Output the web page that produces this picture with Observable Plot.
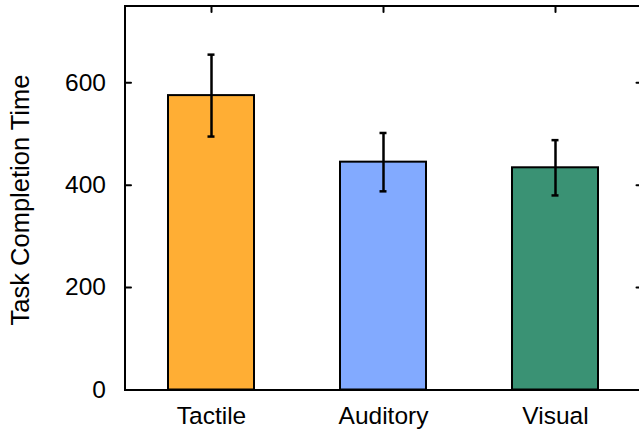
<!DOCTYPE html>
<html>
<head>
<meta charset="utf-8">
<script src="https://cdn.jsdelivr.net/npm/d3@7"></script>
<script src="https://cdn.jsdelivr.net/npm/@observablehq/plot@0.6"></script>
<style>
  html, body { margin: 0; padding: 0; background: white; }
  svg { display: block; }
</style>
</head>
<body>
<div id="chart"></div>
<script>
const categories = ["Tactile", "Auditory", "Visual"];
const means = [575, 445, 434];
const errors = [80, 57, 54];
const colors = ["#FFAE34", "#82AAFF", "#3A9274"];
const yTicks = [0, 200, 400, 600];
const yLabel = "Task Completion Time";

const data = categories.map((c, i) => ({cat: c, mean: means[i], err: errors[i]}));
const tickShape = {draw(ctx, l) { ctx.moveTo(0, 0); ctx.lineTo(0, -l); }};

const chart = Plot.plot({
  width: 639,
  height: 433,
  marginLeft: 124.5,
  marginTop: 5.5,
  marginBottom: 43.5,
  marginRight: -3,
  style: {fontFamily: "'Liberation Sans', Arial, sans-serif", color: "black", background: "white", overflow: "visible"},
  x: {domain: categories, paddingInner: 0.5, paddingOuter: 0.25},
  y: {domain: [0, 750]},
  color: {domain: categories, range: colors},
  marks: [
    Plot.vector(yTicks.filter(d => d > 0), {y: d => d, frameAnchor: "left", rotate: 90, length: 6, anchor: "start", shape: tickShape, stroke: "black", strokeWidth: 2}),
    Plot.vector(yTicks.filter(d => d > 0), {y: d => d, frameAnchor: "right", rotate: -90, length: 6, anchor: "start", shape: tickShape, stroke: "black", strokeWidth: 2}),
    Plot.vector(categories, {x: d => d, frameAnchor: "top", rotate: 180, length: 6, anchor: "start", shape: tickShape, stroke: "black", strokeWidth: 2}),
    Plot.barY(data, {x: "cat", y: "mean", fill: "cat", stroke: "black", strokeWidth: 2}),
    Plot.ruleX(data, {x: "cat", y1: d => d.mean - d.err, y2: d => d.mean + d.err, stroke: "black", strokeWidth: 2.5}),
    Plot.tickY(data, {x: "cat", y: d => d.mean - d.err, insetLeft: 39.5, insetRight: 39.5, stroke: "black", strokeWidth: 2.5}),
    Plot.tickY(data, {x: "cat", y: d => d.mean + d.err, insetLeft: 39.5, insetRight: 39.5, stroke: "black", strokeWidth: 2.5}),
    Plot.frame({stroke: "black", strokeWidth: 2}),
    Plot.axisY({ticks: yTicks, tickSize: 0, tickPadding: 19, fontSize: 24.5, label: null}),
    Plot.axisX({tickSize: 0, tickPadding: 16.5, fontSize: 24.5, label: null}),
    Plot.text([yLabel], {text: d => d, frameAnchor: "left", rotate: -90, dx: -96.5, dy: 2, fontSize: 25.5, lineAnchor: "bottom", textAnchor: "middle", fill: "black"})
  ]
});
document.getElementById("chart").appendChild(chart);
</script>
</body>
</html>
